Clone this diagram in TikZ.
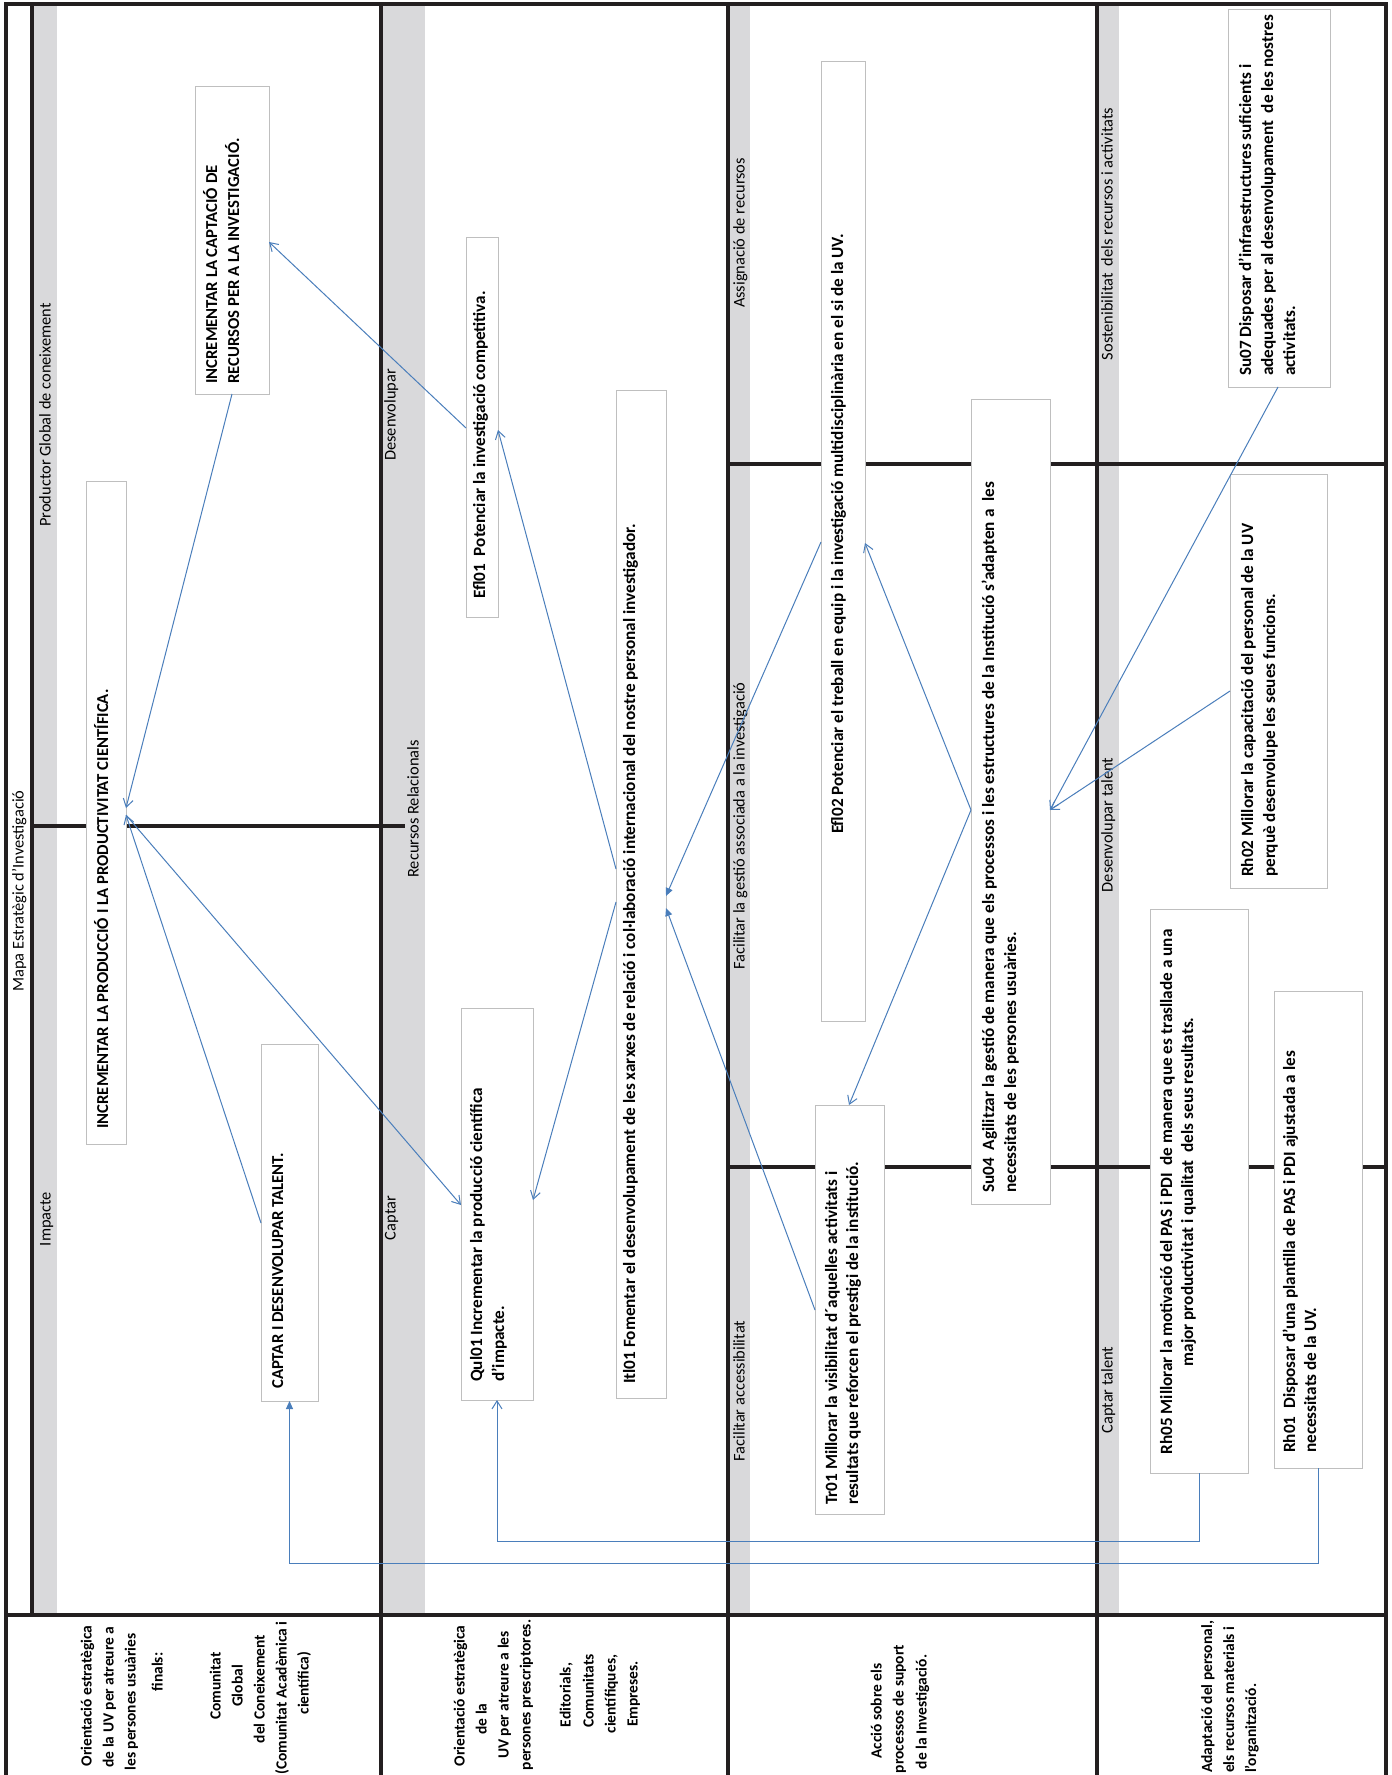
\documentclass[tikz,border=0pt]{standalone}
\usepackage{fontspec}
\setmainfont{Carlito}
\usetikzlibrary{arrows.meta}
\definecolor{framecol}{HTML}{231F20}
\definecolor{bandcol}{HTML}{D9D9DB}
\definecolor{boxcol}{HTML}{BFBFBF}
\definecolor{conncol}{HTML}{4A7EBB}
\tikzset{
  frameline/.style={draw=framecol, line width=3.2pt},
  lbl/.style={rotate=90, anchor=center, inner sep=0pt, text height=0.5em, text depth=0pt,
              font=\fontsize{16.4}{20}\selectfont},
  leg/.style={rotate=90, anchor=center, inner sep=0pt, text height=0.5em, text depth=0pt,
              font=\bfseries\fontsize{15.5}{20}\selectfont},
  legl/.style={rotate=90, anchor=base west, inner sep=0pt,
              font=\bfseries\fontsize{15.5}{20}\selectfont},
  boxshape/.style={draw=boxcol, line width=1pt, fill=white, anchor=north west,
              inner sep=0pt, outer sep=0pt},
  bt/.style={rotate=90, anchor=base west, inner sep=0pt,
              font=\bfseries\fontsize{17.2}{20}\selectfont},
  btc/.style={bt, anchor=base},
  btcaps/.style={bt, font=\bfseries\fontsize{16.7}{20}\selectfont},
  cn/.style={draw=conncol, line width=1pt},
  oarr/.style={-{Straight Barb[length=8pt,width=10pt]}},
  farr/.style={-{Triangle[length=8pt,width=7pt]}}
}
\begin{document}
\begin{tikzpicture}[x=1pt,y=-1pt]
\useasboundingbox (0,0) rectangle (1392,1775);
\fill[white] (0,0) rectangle (1392,1775);
\begin{scope}
\clip (0,0) rectangle (1392,1775);
% header bands
\fill[bandcol] (32,4) rectangle (57,1615);
\fill[bandcol] (381,4) rectangle (425,1615);
\fill[bandcol] (728,4) rectangle (750,1615);
\fill[bandcol] (1097,4) rectangle (1119,1615);
% phase separators
\draw[frameline] (32,826) -- (405,826);
\draw[frameline] (728,464) -- (1386,464);
\draw[frameline] (728,1167) -- (1386,1167);
% lanes and frame
\draw[frameline] (6,1790) -- (6,4) -- (1386,4) -- (1386,1790);
\draw[frameline] (32,4) -- (32,1615);
\draw[frameline] (381,4) -- (381,1790);
\draw[frameline] (728,4) -- (728,1790);
\draw[frameline] (1097,4) -- (1097,1790);
\draw[frameline] (6,1615) -- (1386,1615);
\end{scope}

% lane labels
\node[lbl] (ttl) at (21,891) {Mapa Estratègic d'Investigació};
\node[lbl] (lpg) at (48,415) {Productor Global de coneixement};
\node[lbl] (limp) at (48,1219) {Impacte};
\node[lbl] (ldes) at (393,415) {Desenvolupar};
\node[lbl] (lrr) at (416,809) {Recursos Relacionals};
\node[lbl] (lcap) at (393,1218) {Captar};
\node[lbl] (lass) at (742,233) {Assignació de recursos};
\node[lbl] (lfac) at (742,826) {Facilitar la gestió associada a la investigació};
\node[lbl] (lacc) at (742,1391) {Facilitar accessibilitat};
\node[lbl] (lsos) at (1110,234) {Sostenibilitat\ \ dels recursos i activitats};
\node[lbl] (ldt) at (1110,825) {Desenvolupar talent};
\node[lbl] (lct) at (1110,1390) {Captar talent};

% boxes
\node[boxshape, minimum width=40pt, minimum height=663pt] (prod) at (86,481) {};
\node[boxshape, minimum width=74pt, minimum height=308pt] (capt) at (195,86) {};
\node[boxshape, minimum width=57pt, minimum height=357pt] (talent) at (261,1044) {};
\node[boxshape, minimum width=32pt, minimum height=380pt] (efl01) at (466,237) {};
\node[boxshape, minimum width=72pt, minimum height=392pt] (qul01) at (461,1008) {};
\node[boxshape, minimum width=50pt, minimum height=1008pt] (itl01) at (616,390) {};
\node[boxshape, minimum width=44pt, minimum height=960pt] (efl02) at (821,61) {};
\node[boxshape, minimum width=79pt, minimum height=805pt] (su04) at (971,399) {};
\node[boxshape, minimum width=69pt, minimum height=409pt] (tr01) at (815,1105) {};
\node[boxshape, minimum width=102pt, minimum height=378pt] (su07) at (1228,9) {};
\node[boxshape, minimum width=97pt, minimum height=414pt] (rh02) at (1230,474) {};
\node[boxshape, minimum width=98pt, minimum height=564pt] (rh05) at (1150,909) {};
\node[boxshape, minimum width=88pt, minimum height=477pt] (rh01) at (1274,991) {};

% box texts
\node[btcaps] (tprod) at (108,1129) {INCREMENTAR LA PRODUCCIÓ I LA PRODUCTIVITAT CIENTÍFICA.};
\node[btcaps] (tcapt1) at (217,384) {INCREMENTAR LA CAPTACIÓ DE};
\node[btcaps] (tcapt2) at (239,384) {RECURSOS PER A LA INVESTIGACIÓ.};
\node[btcaps] (ttal) at (283,1389) {CAPTAR I DESENVOLUPAR TALENT.};
\node[bt] (tefl01) at (485,599) {Efl01\ \ Potenciar la investigació competitiva.};
\node[bt] (tqul1) at (482,1382) {Qul01 Incrementar la producció científica};
\node[bt] (tqul2) at (504,1382) {d'impacte.};
\node[bt] (titl) at (635,1384) {Itl01 Fomentar el desenvolupament de les xarxes de relació i col·laboració internacional del nostre personal investigador.};
\node[btc] (tefl02) at (843,534) {Efl02 Potenciar el treball en equip i la investigació multidisciplinària en el si de la UV.};
\node[bt] (tsu41) at (994,1193) {Su04\ \ Agilitzar la gestió de manera que els processos i les estructures de la Institució s'adapten a\ \ les};
\node[bt] (tsu42) at (1016,1193) {necessitats de les persones usuàries.};
\node[bt] (ttr1) at (837,1505) {Tr01 Millorar la visibilitat d´aquelles activitats i};
\node[bt] (ttr2) at (858,1505) {resultats que reforcen el prestigi de la institució.};
\node[bt] (tsu71) at (1251,376) {Su07 Disposar d'infraestructures suficients i};
\node[bt] (tsu72) at (1273,376) {adequades per al desenvolupament\ \ de les nostres};
\node[bt] (tsu73) at (1295,376) {activitats.};
\node[bt] (trh21) at (1253,877) {Rh02 Millorar la capacitació del personal de la UV};
\node[bt] (trh22) at (1275,877) {perquè desenvolupe les seues funcions.};
\node[btc] (trh51) at (1172,1192) {Rh05 Millorar la motivació del PAS i PDI\ \ de manera que es trasllade a una};
\node[btc] (trh52) at (1193,1192) {major productivitat i qualitat\ \ dels seus resultats.};
\node[bt] (trh11) at (1295,1453) {Rh01\ \ Disposar d'una plantilla de PAS i PDI ajustada a les};
\node[bt] (trh12) at (1316,1453) {necessitats de la UV.};

% legend row
\node[leg] (g11) at (89,1696) {Orientació estratègica};
\node[leg] (g12) at (111,1697) {de la UV per atreure a};
\node[leg] (g13) at (133,1702) {les persones usuàries};
\node[leg] (g14) at (160,1672) {finals:};
\node[leg] (g15) at (218,1686) {Comunitat};
\node[leg] (g16) at (240,1686) {Global};
\node[leg] (g17) at (262,1689) {del Coneixement};
\node[leg] (g18) at (284,1698) {(Comunitat Acadèmica i};
\node[leg] (g19) at (306,1683) {científica)};
\node[leg] (g21) at (462,1696) {Orientació estratègica};
\node[leg] (g22) at (484,1719) {de la};
\node[leg] (g23) at (506,1695) {UV per atreure a les};
\node[leg] (g24) at (528,1695) {persones prescriptores.};
\node[leg] (g25) at (568,1695) {Editorials,};
\node[leg] (g26) at (591,1691) {Comunitats};
\node[leg] (g27) at (613,1694) {científiques,};
\node[leg] (g28) at (635,1694) {Empreses.};
\node[leg] (g31) at (879,1711) {Acció sobre els};
\node[leg] (g32) at (901,1709) {processos de suport};
\node[leg] (g33) at (924,1712) {de la Investigació.};
\node[legl] (g41) at (1212,1773) {Adaptació del personal,};
\node[legl] (g42) at (1234,1773) {els recursos materials i};
\node[legl] (g43) at (1256,1773) {l'organització.};

% connectors
\draw[cn, oarr] (capt.south -| 232,0) -- (prod.east |- 0,808);
\draw[cn, oarr] (efl01.west |- 0,428) -- (capt.east |- 0,242);
\draw[cn, oarr] (talent.west |- 0,1223) -- (prod.east |- 0,815);
\draw[cn, oarr] (prod.east |- 0,815) -- (qul01.west |- 0,1205);
\draw[cn, oarr] (itl01.west |- 0,869) -- (efl01.east |- 0,430);
\draw[cn, oarr] (itl01.west |- 0,902) -- (qul01.east |- 0,1200);
\draw[cn, farr] (efl02.west |- 0,542) -- (itl01.east |- 0,896);
\draw[cn, farr] (tr01.west |- 0,1310) -- (itl01.east |- 0,908);
\draw[cn, oarr] (su04.west |- 0,810) -- (efl02.east |- 0,543);
\draw[cn, oarr] (su04.west |- 0,810) -- (tr01.north -| 849,0);
\draw[cn, oarr] (su07.south -| 1278,0) -- (su04.east |- 0,810);
\draw[cn, oarr] (rh02.west |- 0,691) -- (su04.east |- 0,810);
\draw[cn, oarr] (rh05.south) -- (rh05.south |- 0,1541) -- (qul01.south |- 0,1541) -- (qul01.south);
\draw[cn, farr] (rh01.south) -- (rh01.south |- 0,1563) -- (talent.south |- 0,1563) -- (talent.south);
\end{tikzpicture}
\end{document}
